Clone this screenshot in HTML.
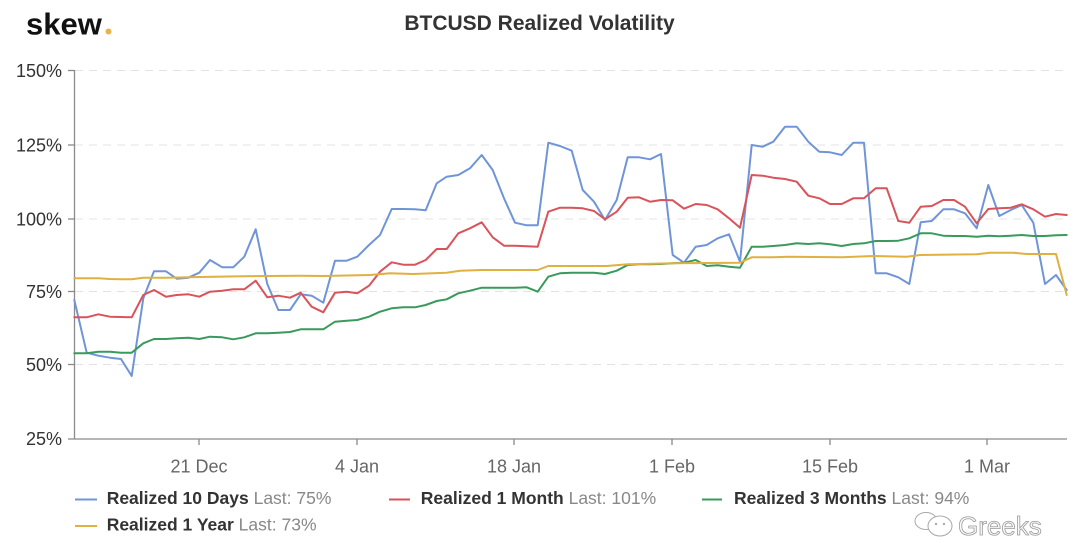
<!DOCTYPE html>
<html>
<head>
<meta charset="utf-8">
<style>
html,body{margin:0;padding:0;background:#fff;}
svg{display:block;}
text{font-family:"Liberation Sans",sans-serif;}
</style>
</head>
<body>
<svg width="1080" height="543" viewBox="0 0 1080 543" xmlns="http://www.w3.org/2000/svg">
<rect width="1080" height="543" fill="#fff"/>

<!-- logo -->
<text x="26" y="34.5" font-size="31" font-weight="bold" fill="#111">skew</text>
<circle cx="108.5" cy="31.5" r="3" fill="#e6b447"/>

<!-- title -->
<text x="539.5" y="30" font-size="21" font-weight="bold" fill="#333" text-anchor="middle">BTCUSD Realized Volatility</text>

<!-- grid -->
<g stroke="#e3e3e3" stroke-width="1" stroke-dasharray="8,6">
<line x1="75" y1="70.5" x2="1067" y2="70.5"/>
<line x1="75" y1="145" x2="1067" y2="145"/>
<line x1="75" y1="219" x2="1067" y2="219"/>
<line x1="75" y1="291.5" x2="1067" y2="291.5"/>
<line x1="75" y1="364.5" x2="1067" y2="364.5"/>
</g>

<!-- axes -->
<g stroke="#8a8a8a" stroke-width="1.3">
<line x1="74.5" y1="70" x2="74.5" y2="439"/>
<line x1="68" y1="439" x2="1067" y2="439"/>
<line x1="68" y1="70.5" x2="74.5" y2="70.5"/>
<line x1="68" y1="145" x2="74.5" y2="145"/>
<line x1="68" y1="219" x2="74.5" y2="219"/>
<line x1="68" y1="291.5" x2="74.5" y2="291.5"/>
<line x1="68" y1="364.5" x2="74.5" y2="364.5"/>
<line x1="199" y1="439" x2="199" y2="445"/>
<line x1="357" y1="439" x2="357" y2="445"/>
<line x1="514" y1="439" x2="514" y2="445"/>
<line x1="672" y1="439" x2="672" y2="445"/>
<line x1="830" y1="439" x2="830" y2="445"/>
<line x1="987" y1="439" x2="987" y2="445"/>
</g>

<!-- y labels -->
<g font-size="18" fill="#333" text-anchor="end">
<text x="62" y="77">150%</text>
<text x="62" y="151.5">125%</text>
<text x="62" y="225.5">100%</text>
<text x="62" y="298">75%</text>
<text x="62" y="371">50%</text>
<text x="62" y="445">25%</text>
</g>

<!-- x labels -->
<g font-size="18" fill="#666" text-anchor="middle">
<text x="199" y="472.7">21 Dec</text>
<text x="357" y="472.7">4 Jan</text>
<text x="514" y="472.7">18 Jan</text>
<text x="672" y="472.7">1 Feb</text>
<text x="830" y="472.7">15 Feb</text>
<text x="987" y="472.7">1 Mar</text>
</g>

<!-- series -->
<g fill="none" stroke-width="2" stroke-linejoin="round" stroke-linecap="round">
<polyline stroke="#6f95d8" points="74.3,300 86.7,352.7 98.3,355.7 110,357.7 121,359 131.7,376 143.3,298.3 154,271.3 166,271.3 176.7,278.7 188.3,277.7 199.3,272.7 210,260 222.3,267.3 233.3,267.3 244.3,256.7 255.7,229.3 267.3,284 278.3,310 290,310 300.7,294.3 311.7,295.7 323.3,302.7 335,260.7 346.7,260.7 357.3,256.7 369,245 380,235 391.7,209 403.3,209 415,209.3 425.7,210.3 436.7,183.3 446.7,176.7 458.3,175 470,168.3 481.7,155 492.7,170 504,198.3 515,222.7 526.7,225.3 537.7,225.3 548.3,142.7 560,146 571.7,150.7 582.7,190 594,201.7 605,220 616.7,200 627.7,157.3 639,157.3 650,159.3 661,154 672.7,255 684,262.7 695.7,246.7 706.7,245 717.7,238.3 729,234.3 740,261.7 751.7,145 762.7,146.7 773.3,141.7 785,126.7 796.7,126.7 808.3,141.7 819.3,151.7 830,152.3 841.7,155 853.3,142.7 864,142.7 875.7,273.3 886.7,273.3 898.3,277.3 909.3,284 920.7,222.3 931.7,221 943.3,209.3 954,209.3 965,213.3 976.7,228.3 988.3,185 999.3,216 1010.7,210 1021.7,205 1033.3,222.7 1045,284 1056,275 1066.7,290"/>
<polyline stroke="#d9535a" points="74.3,317.3 86.7,317.3 98.3,314.3 110,316.7 121,317 131.7,317.3 143.3,295 154,290 166,296.7 176.7,295 188.3,294.3 199.3,296.7 210,291.7 222.3,290.7 233.3,289.3 244.3,289.3 255.7,280.7 267.3,297.3 278.3,295.7 290,297.7 300.7,292.7 311.7,306.7 323.3,312.3 335,292.7 346.7,291.7 357.3,293.3 369,285.7 380,271.7 391.7,262.3 403.3,264.7 415,264.7 425.7,260 436.7,249 446.7,249 458.3,233.3 470,228.3 481.7,222.3 492.7,237.3 504,245.7 515,245.7 526.7,246.3 537.7,246.7 548.3,211.7 560,207.7 571.7,207.7 582.7,208.3 594,211 605,219.3 616.7,211.7 627.7,197.7 639,197.3 650,201.7 661,200 672.7,200.3 684,208.7 695.7,204 706.7,205 717.7,209.3 729,218.3 740,227.7 751.7,175 762.7,175.7 773.3,177.7 785,179 796.7,181.7 808.3,195.7 819.3,198.3 830,204 841.7,204 853.3,198.3 864,198.3 875.7,188.3 886.7,188.3 898.3,221 909.3,222.7 920.7,206.7 931.7,206 943.3,200 954,200 965,206.7 976.7,223.3 988.3,209 999.3,208.3 1010.7,207.7 1021.7,204.3 1033.3,209.3 1045,216.7 1056,214 1066.7,215"/>
<polyline stroke="#3a9a5c" points="74.3,353.3 86.7,353.3 98.3,351.7 110,351.7 121,352.7 131.7,352.7 143.3,343.3 154,339 166,339 176.7,338.3 188.3,337.7 199.3,339 210,336.7 222.3,337.3 233.3,339.3 244.3,337.3 255.7,333.3 267.3,333.3 278.3,332.7 290,332 300.7,329.3 311.7,329.3 323.3,329.3 335,321.7 346.7,320.7 357.3,320 369,316.7 380,311.7 391.7,308.3 403.3,307.3 415,307.3 425.7,305 436.7,301 446.7,299.3 458.3,293.3 470,290.7 481.7,287.7 492.7,287.7 504,287.7 515,287.7 526.7,287.3 537.7,291.7 548.3,276.7 560,273.3 571.7,272.7 582.7,272.7 594,272.7 605,274 616.7,270.7 627.7,265 639,264.3 650,264.3 661,264 672.7,263.3 684,262.7 695.7,260 706.7,266 717.7,265.3 729,266.7 740,267.7 751.7,246.7 762.7,246.7 773.3,246 785,245 796.7,243.3 808.3,244 819.3,243.3 830,244.3 841.7,246 853.3,244 864,243.3 875.7,241 886.7,241 898.3,240.7 909.3,238.3 920.7,233.3 931.7,233.3 943.3,235.7 954,236 965,236 976.7,236.7 988.3,235.7 999.3,236.3 1010.7,235.7 1021.7,235 1033.3,236 1045,236 1056,235.3 1066.7,235"/>
<polyline stroke="#e0b040" points="74.3,278.3 98.3,278.3 110,279 121,279.3 131.7,279.3 143.3,277.7 166,277.7 200,277 243,276.3 267,276 300,275.7 323.3,276 370,275 390,273.3 413,274 446.7,272.7 460,270.7 481.7,270 537.7,270 548.3,266 606.7,266 627.7,264.3 673.3,263.3 740,262.7 751.7,257.3 773.3,257.3 788.3,256.7 841.7,257.3 873.3,256 906.7,256.7 920,255 976.7,254.3 990,252.7 1013.3,252.7 1026.7,254 1056,254 1066.7,295"/>
</g>

<!-- legend -->
<g stroke-width="2">
<line x1="75" y1="499.5" x2="97" y2="499.5" stroke="#6f95d8"/>
<line x1="389" y1="499.5" x2="410" y2="499.5" stroke="#d9535a"/>
<line x1="702" y1="499.5" x2="722" y2="499.5" stroke="#3a9a5c"/>
<line x1="75" y1="526" x2="97" y2="526" stroke="#e0b040"/>
</g>
<g font-size="17.5">
<text x="106.7" y="504"><tspan font-weight="bold" fill="#333">Realized 10 Days</tspan><tspan fill="#888"> Last: 75%</tspan></text>
<text x="420.8" y="504"><tspan font-weight="bold" fill="#333">Realized 1 Month</tspan><tspan fill="#888"> Last: 101%</tspan></text>
<text x="734" y="504"><tspan font-weight="bold" fill="#333">Realized 3 Months</tspan><tspan fill="#888"> Last: 94%</tspan></text>
<text x="106.7" y="530.7"><tspan font-weight="bold" fill="#333">Realized 1 Year</tspan><tspan fill="#888"> Last: 73%</tspan></text>
</g>

<!-- watermark -->
<g fill="#fff" stroke="#a8a8a8" stroke-width="1">
<ellipse cx="926" cy="521" rx="11" ry="8.5"/>
<ellipse cx="940" cy="526" rx="12" ry="10"/>
<circle cx="936" cy="524" r="1.2" fill="#aaa" stroke="none"/>
<circle cx="944" cy="524" r="1.2" fill="#aaa" stroke="none"/>
</g>
<text x="958" y="535" font-size="26" fill="#fafafa" stroke="#9a9a9a" stroke-width="0.8">Greeks</text>
</svg>
</body>
</html>
